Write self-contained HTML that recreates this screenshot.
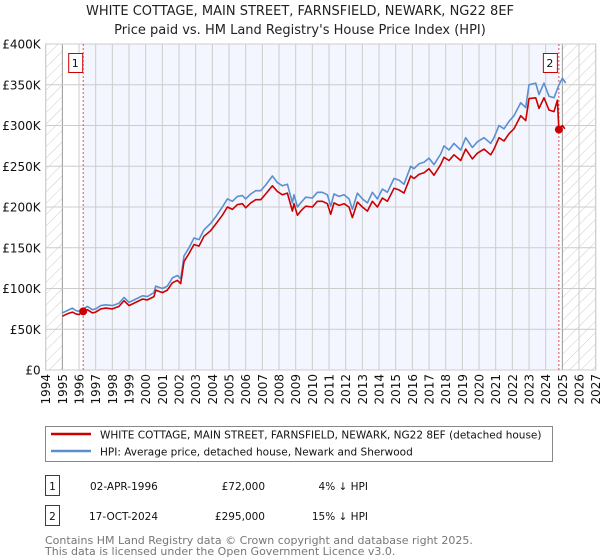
<!DOCTYPE html>
<html><head><meta charset="utf-8"><style>
body{margin:0;background:#fff;width:600px;height:560px;overflow:hidden;font-family:"DejaVu Sans","Liberation Sans",sans-serif}
svg{display:block}
</style></head><body>
<svg id="chart" width="600" height="560" viewBox="0 0 600 560" xmlns="http://www.w3.org/2000/svg">
<defs>
<pattern id="hatch" width="8" height="8" patternUnits="userSpaceOnUse" patternTransform="rotate(45)">
<line x1="0" y1="0" x2="0" y2="8" stroke="#ccc" stroke-width="1"/>
</pattern>
</defs>
<text x="300" y="15" text-anchor="middle" font-size="13" fill="#222">WHITE COTTAGE, MAIN STREET, FARNSFIELD, NEWARK, NG22 8EF</text>
<text x="300" y="34" text-anchor="middle" font-size="13" fill="#222">Price paid vs. HM Land Registry's House Price Index (HPI)</text>
<g id="plot"></g>
<g id="legend">
<rect x="45.5" y="426.5" width="507" height="35" fill="#fff" stroke="#888"/>
<line x1="51" y1="434" x2="91" y2="434" stroke="#cc0000" stroke-width="2.5"/>
<text x="100" y="438.5" font-size="10.5" fill="#111">WHITE COTTAGE, MAIN STREET, FARNSFIELD, NEWARK, NG22 8EF (detached house)</text>
<line x1="51" y1="451" x2="91" y2="451" stroke="#5b8fd0" stroke-width="2.5"/>
<text x="100" y="455.5" font-size="10.5" fill="#111">HPI: Average price, detached house, Newark and Sherwood</text>
</g>
<g font-size="10.5" fill="#111">
<rect x="45.5" y="475.5" width="14" height="20" fill="#fff" stroke="#cc0000"/>
<text x="52.5" y="490" text-anchor="middle">1</text>
<text x="90" y="490">02-APR-1996</text>
<text x="265" y="490" text-anchor="end">£72,000</text>
<text x="368" y="490" text-anchor="end">4% ↓ HPI</text>
<rect x="45.5" y="505.5" width="14" height="20" fill="#fff" stroke="#cc0000"/>
<text x="52.5" y="520" text-anchor="middle">2</text>
<text x="89" y="520">17-OCT-2024</text>
<text x="265" y="520" text-anchor="end">£295,000</text>
<text x="368" y="520" text-anchor="end">15% ↓ HPI</text>
</g>
<text x="45" y="544" font-size="11" fill="#777">Contains HM Land Registry data © Crown copyright and database right 2025.</text>
<text x="45" y="555" font-size="11" fill="#777">This data is licensed under the Open Government Licence v3.0.</text>
</svg>
<script>
const yTicks=[0,50,100,150,200,250,300,350,400];
const yTickLabels=["£0","£50K","£100K","£150K","£200K","£250K","£300K","£350K","£400K"];
const xYears=[1994,1995,1996,1997,1998,1999,2000,2001,2002,2003,2004,2005,2006,2007,2008,2009,2010,2011,2012,2013,2014,2015,2016,2017,2018,2019,2020,2021,2022,2023,2024,2025,2026,2027];
const hpiDates=[1995.0,1995.3,1995.6,1995.8,1996.0,1996.25,1996.5,1996.8,1997.0,1997.3,1997.6,1998.0,1998.4,1998.7,1999.0,1999.4,1999.8,2000.1,2000.5,2000.6,2001.0,2001.3,2001.6,2001.9,2002.1,2002.3,2002.6,2002.9,2003.2,2003.5,2003.9,2004.2,2004.6,2004.9,2005.2,2005.5,2005.8,2006.0,2006.3,2006.6,2006.9,2007.2,2007.6,2007.9,2008.2,2008.5,2008.8,2008.9,2009.1,2009.3,2009.6,2010.0,2010.3,2010.6,2010.9,2011.1,2011.3,2011.6,2011.9,2012.2,2012.4,2012.7,2013.0,2013.3,2013.6,2013.9,2014.2,2014.5,2014.9,2015.2,2015.5,2015.9,2016.1,2016.4,2016.7,2017.0,2017.3,2017.7,2017.9,2018.2,2018.5,2018.9,2019.2,2019.6,2019.9,2020.3,2020.7,2020.9,2021.2,2021.5,2021.8,2022.1,2022.5,2022.8,2023.0,2023.4,2023.6,2023.9,2024.2,2024.5,2024.8,2025.0,2025.2];
const hpiValues=[70,73,76,73,72,75,78,74,75,79,80,79,82,89,83,87,91,90,95,103,100,103,113,116,112,140,150,162,160,172,180,188,200,210,207,213,214,210,216,220,220,227,238,230,226,228,205,215,200,205,212,211,218,218,215,201,216,213,215,210,197,217,210,205,218,210,222,218,235,233,228,250,247,253,255,260,252,265,275,270,278,270,285,273,280,285,278,285,300,296,305,312,328,322,350,352,338,352,336,334,350,358,352];
const priceDates=[1995.0,1995.3,1995.6,1995.8,1996.0,1996.25,1996.5,1996.8,1997.0,1997.3,1997.6,1998.0,1998.4,1998.7,1999.0,1999.4,1999.8,2000.1,2000.5,2000.6,2001.0,2001.3,2001.6,2001.9,2002.1,2002.3,2002.6,2002.9,2003.2,2003.5,2003.9,2004.2,2004.6,2004.9,2005.2,2005.5,2005.8,2006.0,2006.3,2006.6,2006.9,2007.2,2007.6,2007.9,2008.2,2008.5,2008.8,2008.9,2009.1,2009.3,2009.6,2010.0,2010.3,2010.6,2010.9,2011.1,2011.3,2011.6,2011.9,2012.2,2012.4,2012.7,2013.0,2013.3,2013.6,2013.9,2014.2,2014.5,2014.9,2015.2,2015.5,2015.9,2016.1,2016.4,2016.7,2017.0,2017.3,2017.7,2017.9,2018.2,2018.5,2018.9,2019.2,2019.6,2019.9,2020.3,2020.7,2020.9,2021.2,2021.5,2021.8,2022.1,2022.5,2022.8,2023.0,2023.4,2023.6,2023.9,2024.2,2024.5,2024.7,2024.79,2025.0,2025.15];
const priceValues=[66,69,71,69,68,72,74,70,71,75,76,75,78,85,79,83,87,86,90,98,95,98,107,110,106,133,143,154,152,164,171,179,190,200,197,203,204,199,205,209,209,216,226,219,215,217,195,204,190,195,201,200,207,207,204,191,205,202,204,200,187,206,200,195,207,200,211,207,223,221,217,238,235,240,242,247,239,252,261,257,264,257,271,259,266,271,264,271,285,281,290,296,312,306,333,334,321,334,319,317,331,295,300,296];
const saleDates=[1996.25,2024.79];
const saleValues=[72,295];
const saleLabels=["1","2"];

const NS="http://www.w3.org/2000/svg";
const X0=45.7,PX_PER_YEAR=16.667,Y0=370,PX_PER_K=0.815;
function xs(d){return X0+(d-1994)*PX_PER_YEAR;}
function ys(v){return Y0-v*PX_PER_K;}
const plot=document.getElementById('plot');
function mk(tag,attrs,parent){const e=document.createElementNS(NS,tag);for(const k in attrs)e.setAttribute(k,attrs[k]);(parent||plot).appendChild(e);return e;}

const L=xs(1994),R=xs(2027),T=ys(400),B=ys(0);
const bg=mk('rect',{x:L,y:T,width:R-L,height:B-T,fill:'#fff'});


const band=mk('rect',{x:xs(saleDates[0]),y:T,width:xs(saleDates[1])-xs(saleDates[0]),height:B-T,fill:'#f3f6fe'});


const h1=mk('rect',{x:L,y:T,width:xs(1995)-L,height:B-T,fill:'url(#hatch)'});


const h2=mk('rect',{x:xs(2025),y:T,width:R-xs(2025),height:B-T,fill:'url(#hatch)'});



xYears.forEach(yr=>{
  const g=mk('line',{x1:xs(yr),x2:xs(yr),y1:T,y2:B,stroke:(yr===1995||yr===2025)?'#999':'#ccc','stroke-width':1});
  
  
  const t=mk('text',{x:0,y:0,'font-size':12,fill:'#111','text-anchor':'end',transform:`translate(${xs(yr)+4.5},${B+4}) rotate(-90)`});
  t.textContent=yr;
  
  
});
yTicks.forEach((v,i)=>{
  const g=mk('line',{x1:L,x2:R,y1:ys(v),y2:ys(v),stroke:'#ccc','stroke-width':1});
  
  
  const t=mk('text',{x:L-5,y:ys(v)+4.5,'font-size':12,fill:'#111','text-anchor':'end'});
  t.textContent=yTickLabels[i];
  
  
});
const frame=mk('rect',{x:L,y:T,width:R-L,height:B-T,fill:'none',stroke:'#ccc'});



saleDates.forEach((d,i)=>{
  const v=mk('line',{x1:xs(d),x2:xs(d),y1:T,y2:B,stroke:'#e05050','stroke-width':1,'stroke-dasharray':'2,2'});
  
  
});

function path(dates,vals,color,name){
  let d='';dates.forEach((t,i)=>{d+=(i?'L':'M')+xs(t).toFixed(1)+','+ys(vals[i]).toFixed(1);});
  const p=mk('path',{d:d,fill:'none',stroke:color,'stroke-width':1.6,'stroke-linejoin':'round'});
  
  
}
path(hpiDates,hpiValues,'#5b8fd0','hpi-line');
path(priceDates,priceValues,'#cc0000','property-price-line');

saleDates.forEach((d,i)=>{
  const c=mk('circle',{cx:xs(d),cy:ys(saleValues[i]),r:4,fill:'#cc0000'});
  
  
  const bx=xs(d)-(i===0?8:9);
  const r=mk('rect',{x:bx-7+0.5,y:T+9.5,width:14,height:19,fill:'#fff',stroke:'#cc0000'});
  
  
  const t=mk('text',{x:bx,y:T+23,'font-size':11,fill:'#111','text-anchor':'middle'});
  t.textContent=saleLabels[i];
  
  
});
</script>
</body></html>
